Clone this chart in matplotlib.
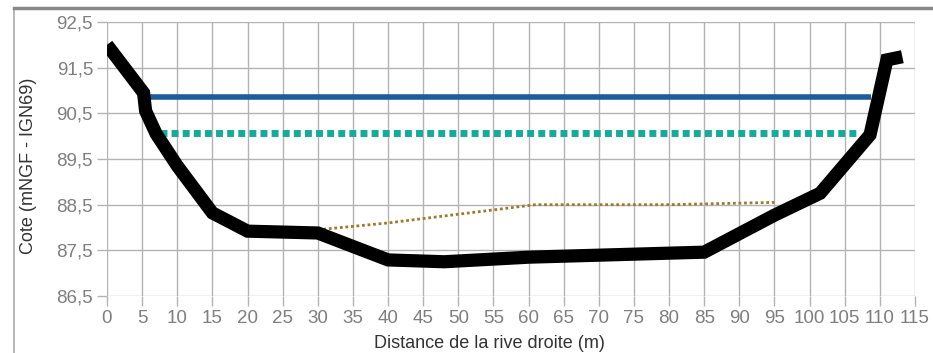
import matplotlib
matplotlib.use("Agg")
import matplotlib.pyplot as plt
from matplotlib.lines import Line2D

plt.rcParams['font.family'] = ['Liberation Sans', 'DejaVu Sans']

# Terrain profile (distance m, elevation m NGF)
terrain_x = [0, 5.2, 5.5, 7, 10, 15, 20, 30, 40, 48, 60, 85, 95, 101.5, 108.6, 111, 113.2]
terrain_y = [92.0, 90.95, 90.55, 90.05, 89.35, 88.32, 87.92, 87.88, 87.29, 87.25, 87.35, 87.46, 88.27, 88.75, 90.03, 91.67, 91.74]

# Water level 1 (solid blue)
level1_x = [5.1, 108.7]
level1_y = [90.85, 90.85]

# Water level 2 (teal dotted)
level2_x = [7.5, 107.2]
level2_y = [90.07, 90.07]

# Thin dotted line
thin_x = [30, 40, 61, 80, 95]
thin_y = [87.95, 88.1, 88.5, 88.5, 88.55]

x_ticks = list(range(0, 120, 5))
y_ticks = [86.5, 87.5, 88.5, 89.5, 90.5, 91.5, 92.5]
y_ticklabels = ['86,5', '87,5', '88,5', '89,5', '90,5', '91,5', '92,5']

W, H = 933, 353
fig = plt.figure(figsize=(W / 100, H / 100), dpi=100)
fig.patch.set_facecolor('white')

# outer frame lines of the screenshot
fig.add_artist(Line2D([14 / W, 14 / W], [0, 1 - 8 / H], color='#aaaaaa', lw=1.2))
fig.add_artist(Line2D([14 / W, 1], [1 - 8 / H, 1 - 8 / H], color='#888888', lw=2.5))

ax = fig.add_axes([107 / W, 1 - 296 / H, (915 - 107) / W, (296 - 22) / H])
ax.set_xlim(0, 115)
ax.set_ylim(86.5, 92.5)
for s in ax.spines.values():
    s.set_visible(False)

ax.set_xticks(x_ticks)
ax.set_yticks(y_ticks)
ax.set_yticklabels(y_ticklabels)
ax.grid(True, color='#b3b3b3', lw=1.0)
ax.set_axisbelow(True)
ax.tick_params(axis='both', colors='#b3b3b3', labelcolor='#7f7f7f', labelsize=13.5,
               length=7, width=1.0, pad=3)

ax.plot(level1_x, level1_y, color='#1f5c99', lw=4, solid_capstyle='butt', zorder=3)
ax.plot(level2_x, level2_y, color='#1aa89a', lw=5, linestyle=(0, (1, 0.6)),
        dash_capstyle='butt', zorder=3)
ax.plot(thin_x, thin_y, color='#9c7a2e', lw=2, linestyle=(0, (1, 1)), zorder=3)
ax.plot(terrain_x, terrain_y, color='black', lw=9.5, solid_joinstyle='miter',
        solid_capstyle='butt', zorder=4)

ax.set_ylabel('Cote (mNGF - IGN69)', fontsize=13, color='#333333')
ax.set_xlabel('Distance de la rive droite (m)', fontsize=13, color='#333333')
ax.xaxis.label.set_va('center')
ax.yaxis.label.set_va('center')
ax.xaxis.set_label_coords((489 - 107) / 808, (296 - 343) / 274)
ax.yaxis.set_label_coords((29 - 107) / 808, (296 - 166) / 274)

fig.savefig('out.png', dpi=100, facecolor='white')
